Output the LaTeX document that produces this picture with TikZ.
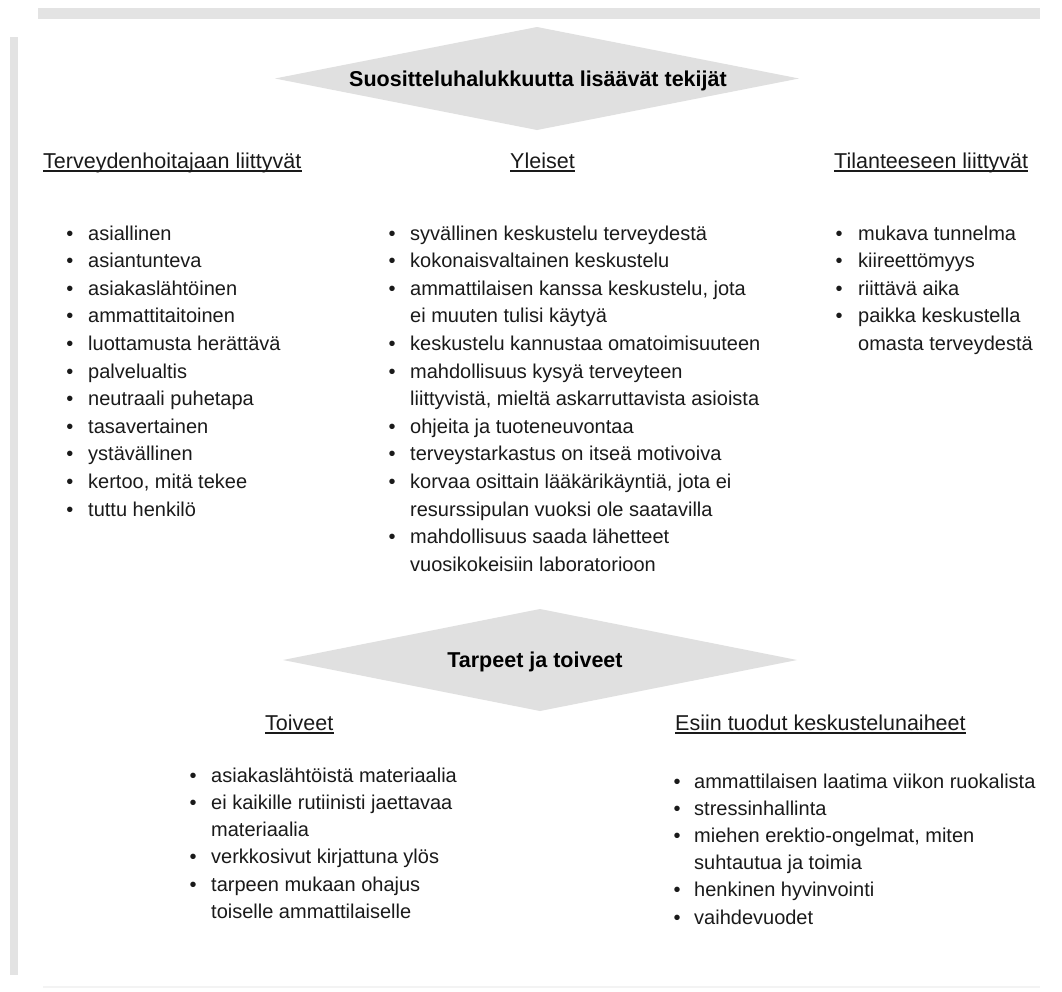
\documentclass[tikz,border=0pt]{standalone}
\usepackage{fontspec}
\setmainfont{Liberation Sans}
\definecolor{txt}{HTML}{1A1A1A}
\definecolor{diamgray}{HTML}{E0E0E0}
\definecolor{bargray}{HTML}{E3E3E3}
\definecolor{faint}{HTML}{F3F3F3}
\begin{document}
\begin{tikzpicture}[x=1pt,y=-1pt,
  itm/.style={anchor=base west,inner sep=0pt,font=\fontsize{20}{24}\selectfont,text=txt},
  bul/.style={anchor=base,inner sep=0pt,font=\fontsize{20}{24}\selectfont,text=txt},
  head/.style={anchor=base west,inner sep=0pt,font=\fontsize{21.5}{26}\selectfont,text=txt},
  uline/.style={draw=txt,line width=1.3pt},
  ttl/.style={anchor=base,inner sep=0pt,font=\fontsize{21.5}{26}\selectfont\bfseries,text=black},
  diam/.style={fill=diamgray},
  bar/.style={fill=bargray}]

\useasboundingbox (0,0) rectangle (1062,991);
\fill[white] (0,0) rectangle (1062,991);

% frame bars
\fill[bar] (38,8) rectangle (1040,19);
\fill[bar] (10,37) rectangle (18,975);
\fill[faint] (43,986) rectangle (1040,988);

% diamonds
\fill[diam] (537,27) -- (799,78.5) -- (537,130) -- (275,78.5) -- cycle;
\node[ttl] (t1) at (538,86) {Suositteluhalukkuutta lisäävät tekijät};
\fill[diam] (540,609) -- (797,660) -- (540,711) -- (283,660) -- cycle;
\node[ttl] (t2) at (535,667.5) {Tarpeet ja toiveet};

% headings
\node[head] (h1) at (43,168) {Terveydenhoitajaan liittyvät};
\node[head] (h2) at (510,168) {Yleiset\ };
\node[head] (h3) at (834,168) {Tilanteeseen liittyvät};
\node[head] (h4) at (265,730) {Toiveet};
\node[head] (h5) at (675,730) {Esiin tuodut keskustelunaiheet};
\foreach \h in {h1,h2,h3,h4,h5}
  \draw[uline] ([yshift=-3pt]\h.base west) -- ([yshift=-3pt]\h.base east);

% left column
\foreach \t/\b [count=\i from 0] in {asiallinen/1, asiantunteva/1, asiakaslähtöinen/1,
  ammattitaitoinen/1, luottamusta herättävä/1, palvelualtis/1, neutraali puhetapa/1,
  tasavertainen/1, ystävällinen/1, {kertoo, mitä tekee}/1, tuttu henkilö/1}{
  \node[itm] (L\i) at (88,{240+27.6*\i}) {\t};
  \ifnum\b=1 \node[bul] (Lb\i) at (70,{240+27.6*\i}) {•};\fi
}

% middle column
\foreach \t/\b [count=\i from 0] in {syvällinen keskustelu terveydestä/1,
  kokonaisvaltainen keskustelu/1,
  {ammattilaisen kanssa keskustelu, jota}/1,
  ei muuten tulisi käytyä/0,
  keskustelu kannustaa omatoimisuuteen/1,
  mahdollisuus kysyä terveyteen/1,
  {liittyvistä, mieltä askarruttavista asioista}/0,
  ohjeita ja tuoteneuvontaa/1,
  terveystarkastus on itseä motivoiva/1,
  {korvaa osittain lääkärikäyntiä, jota ei}/1,
  resurssipulan vuoksi ole saatavilla/0,
  mahdollisuus saada lähetteet/1,
  vuosikokeisiin laboratorioon/0}{
  \node[itm] (M\i) at (410,{240+27.6*\i}) {\t};
  \ifnum\b=1 \node[bul] (Mb\i) at (392,{240+27.6*\i}) {•};\fi
}

% right column
\foreach \t/\b [count=\i from 0] in {mukava tunnelma/1, kiireettömyys/1, riittävä aika/1,
  paikka keskustella/1, omasta terveydestä/0}{
  \node[itm] (R\i) at (858,{240+27.6*\i}) {\t};
  \ifnum\b=1 \node[bul] (Rb\i) at (839,{240+27.6*\i}) {•};\fi
}

% lower left
\foreach \t/\b [count=\i from 0] in {asiakaslähtöistä materiaalia/1,
  ei kaikille rutiinisti jaettavaa/1, materiaalia/0, verkkosivut kirjattuna ylös/1,
  tarpeen mukaan ohajus/1, toiselle ammattilaiselle/0}{
  \node[itm] (T\i) at (211,{782+27.3*\i}) {\t};
  \ifnum\b=1 \node[bul] (Tb\i) at (193,{782+27.3*\i}) {•};\fi
}

% lower right
\foreach \t/\b [count=\i from 0] in {ammattilaisen laatima viikon ruokalista/1,
  stressinhallinta/1, {miehen erektio-ongelmat, miten}/1, suhtautua ja toimia/0,
  henkinen hyvinvointi/1, vaihdevuodet/1}{
  \node[itm] (E\i) at (694,{788+27.2*\i}) {\t};
  \ifnum\b=1 \node[bul] (Eb\i) at (677,{788+27.2*\i}) {•};\fi
}
\end{tikzpicture}
\end{document}
